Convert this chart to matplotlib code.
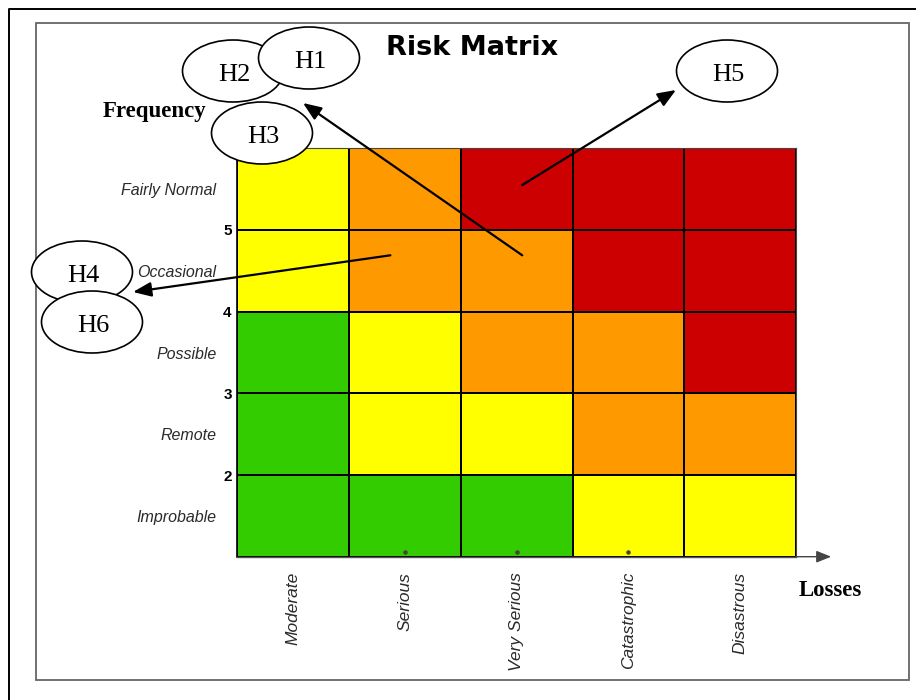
import matplotlib
matplotlib.use('Agg')
import matplotlib.pyplot as plt
import matplotlib.patches as patches
from matplotlib.colors import ListedColormap
import numpy as np

plt.rcParams['font.family'] = ['Liberation Sans', 'DejaVu Sans']

losses = ['Moderate', 'Serious', 'Very Serious', 'Catastrophic', 'Disastrous']
frequencies = ['Improbable', 'Remote', 'Possible', 'Occasional', 'Fairly Normal']
freq_ticks = [2, 3, 4, 5]

# risk level per cell, rows from Improbable (bottom) to Fairly Normal (top)
# 0 = low, 1 = medium, 2 = high, 3 = extreme
risk_levels = [
    [0, 0, 0, 1, 1],
    [0, 1, 1, 2, 2],
    [0, 1, 2, 2, 3],
    [1, 2, 2, 3, 3],
    [1, 2, 3, 3, 3],
]
level_colors = ['#33cc00', '#ffff00', '#ff9900', '#cc0000']

# hazard bubbles (figure pixels) and the cells their arrows start from
hazard_names = ['H2', 'H1', 'H3', 'H5', 'H4', 'H6']
bubble_centers = [(233, 71), (309, 58), (262, 133), (727, 71), (82, 272), (92, 322)]
arrow_loss = [2.55, 2.55, 1.37]
arrow_freq = [5.55, 4.69, 4.69]
arrow_targets = [(676, 90), (303, 103), (133, 292)]

marks_loss = [1.5, 2.5, 3.5]

W, H = 916, 700
fig = plt.figure(figsize=(W / 100, H / 100), dpi=100)

ax = fig.add_axes([237.3 / W, (H - 556.7) / H, 558.7 / W, 408.4 / H])
cmap = ListedColormap(level_colors)
ax.pcolormesh(np.arange(6), np.arange(1, 7), np.array(risk_levels), cmap=cmap,
              vmin=-0.5, vmax=3.5, edgecolors='black', linewidth=1.1)
ax.set_xlim(0, 5)
ax.set_ylim(1, 6)

ax.set_xticks(np.arange(5) + 0.5, losses, rotation=90, fontstyle='italic',
              fontsize=12.5, color='#2a2a2a')
ax.set_yticks(freq_ticks, [str(v) for v in freq_ticks], fontweight='bold', fontsize=11)
ax.set_yticks(np.arange(5) + 1.5, frequencies, minor=True, fontstyle='italic',
              fontsize=11.5, color='#2a2a2a')
ax.tick_params(axis='x', length=0, pad=11)
ax.tick_params(axis='y', which='major', length=0, pad=4)
ax.tick_params(axis='y', which='minor', length=0, pad=15)

ax.spines['left'].set_color('black')
ax.spines['left'].set_linewidth(1.2)
for s in ['top', 'right']:
    ax.spines[s].set_color('#444444')
    ax.spines[s].set_linewidth(0.8)
ax.spines['bottom'].set_color('#555555')
ax.spines['bottom'].set_linewidth(1.0)

# losses axis arrow
ax.annotate('', xy=(1.063, 0), xytext=(1.0, 0), xycoords='axes fraction',
            arrowprops=dict(arrowstyle='-|>,head_length=0.5,head_width=0.2', color='#444444',
                            lw=1.0, mutation_scale=18, shrinkA=0, shrinkB=0),
            annotation_clip=False)
ax.scatter(marks_loss, [1.06] * len(marks_loss), s=5, color='#444444', zorder=3, clip_on=False)

# overlay in pixel coordinates for frame, titles and hazard bubbles
ov = fig.add_axes([0, 0, 1, 1], zorder=5)
ov.set_xlim(0, W)
ov.set_ylim(H, 0)
ov.axis('off')
ov.patch.set_alpha(0)

ov.plot([9, 9, W], [H, 9, 9], color='black', lw=1.4)
ov.add_patch(patches.Rectangle((36, 23), 872.5, 657, fill=False, edgecolor='#666666', lw=1.3))

ov.text(472, 48, 'Risk Matrix', fontsize=19.5, fontweight='bold', family='DejaVu Sans',
        ha='center', va='center')
ov.text(155, 112, 'Frequency', fontsize=16.5, fontweight='bold', family='Liberation Serif',
        ha='center', va='center')
ov.text(830, 590, 'Losses', fontsize=16.5, fontweight='bold', family='Liberation Serif',
        ha='center', va='center')

for i, (name, (cx, cy)) in enumerate(zip(hazard_names, bubble_centers)):
    ov.add_patch(patches.Ellipse((cx, cy), 101, 62, facecolor='white', edgecolor='black',
                                 lw=1.2, zorder=2 + i))
    ov.text(cx + 1, cy + 4, name, fontsize=19, family='Liberation Serif',
            ha='center', va='center', zorder=2.5 + i)

for lx, fy, (tx, ty) in zip(arrow_loss, arrow_freq, arrow_targets):
    ov.annotate('', xy=(tx, ty), xycoords='data', xytext=(lx, fy), textcoords=ax.transData,
                arrowprops=dict(arrowstyle='-|>,head_length=0.55,head_width=0.22', color='black',
                                lw=1.6, mutation_scale=20, shrinkA=0, shrinkB=0),
                zorder=20)

fig.savefig('out.png', dpi=100)
